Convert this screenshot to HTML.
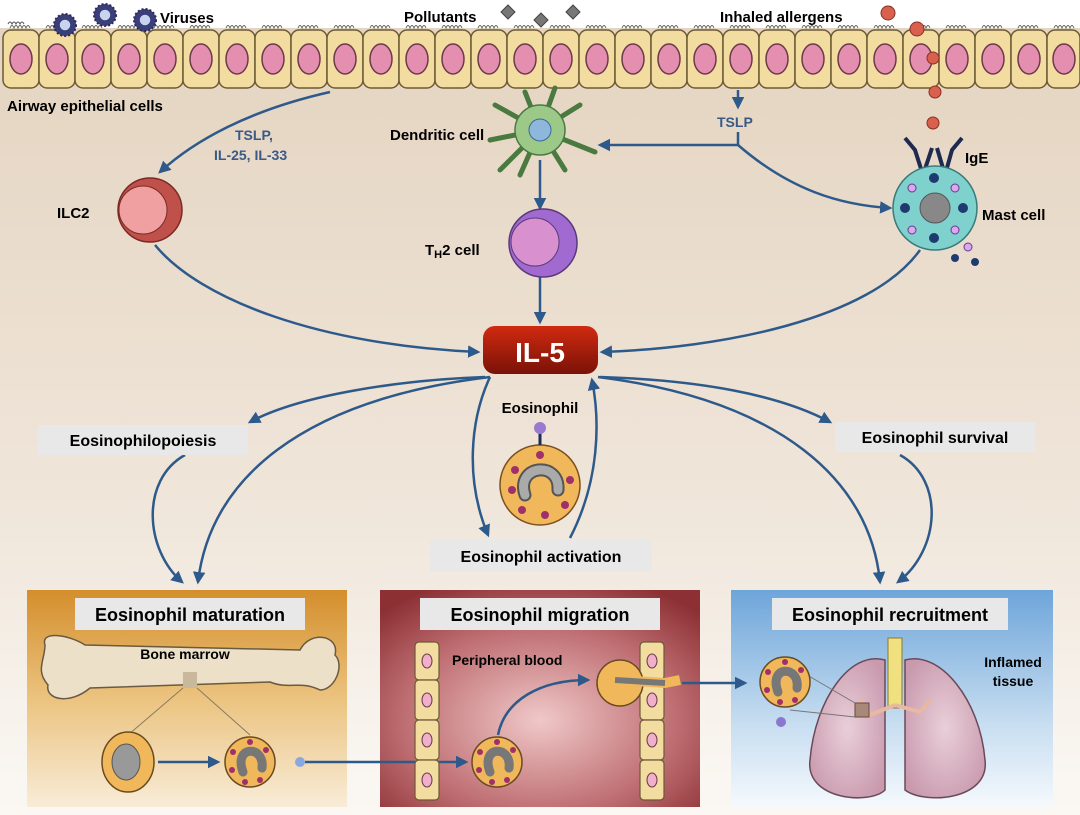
<!DOCTYPE html>
<html><head><meta charset="utf-8"><style>
html,body{margin:0;padding:0;background:#fff}
svg{display:block}
text{font-family:"Liberation Sans",sans-serif;font-weight:bold}
</style></head><body>
<svg width="1080" height="815" viewBox="0 0 1080 815" xmlns="http://www.w3.org/2000/svg">
<defs>
<linearGradient id="bg" x1="0" y1="0" x2="0" y2="1">
<stop offset="0" stop-color="#e4d3bf"/><stop offset="0.6" stop-color="#efe5d9"/><stop offset="1" stop-color="#fbf8f4"/></linearGradient>
<linearGradient id="p1" x1="0" y1="0" x2="0" y2="1">
<stop offset="0" stop-color="#d48e2c"/><stop offset="0.5" stop-color="#ebc37f"/><stop offset="1" stop-color="#f8ecd8"/></linearGradient>
<radialGradient id="p2" cx="0.5" cy="0.6" r="0.7">
<stop offset="0" stop-color="#f0c8c8"/><stop offset="0.6" stop-color="#bf6f73"/><stop offset="1" stop-color="#8c3034"/></radialGradient>
<linearGradient id="p3" x1="0" y1="0" x2="0" y2="1">
<stop offset="0" stop-color="#6ea5da"/><stop offset="0.6" stop-color="#c5dcf0"/><stop offset="1" stop-color="#f5f9fd"/></linearGradient>
<linearGradient id="il5" x1="0" y1="0" x2="0" y2="1">
<stop offset="0" stop-color="#d02a10"/><stop offset="1" stop-color="#7a1208"/></linearGradient>
<marker id="ah" viewBox="0 0 10 10" refX="8" refY="5" markerWidth="5" markerHeight="5" orient="auto-start-reverse">
<path d="M0,0 L10,5 L0,10 z" fill="#2d5a8a"/></marker>
<radialGradient id="lung" cx="0.5" cy="0.5" r="0.6"><stop offset="0" stop-color="#e9cfd8"/><stop offset="1" stop-color="#c99aae"/></radialGradient>
</defs>
<rect width="1080" height="815" fill="url(#bg)"/>
<rect y="0" width="1080" height="28" fill="#fff"/>

<!-- epithelium -->
<g id="epi">
<g stroke="#555" stroke-width="1" fill="none">
<path d="M8,24 q2,-4 4,0 q2,-4 4,0 q2,-4 4,0 q2,-4 4,0" transform="translate(0,0)"/>
</g>
</g>
<g fill="#f2dca0" stroke="#6b5a35" stroke-width="1.5">
<!-- cells -->
<rect x="3" y="30" width="36" height="58" rx="8"/><rect x="39" y="30" width="36" height="58" rx="8"/><rect x="75" y="30" width="36" height="58" rx="8"/><rect x="111" y="30" width="36" height="58" rx="8"/><rect x="147" y="30" width="36" height="58" rx="8"/><rect x="183" y="30" width="36" height="58" rx="8"/><rect x="219" y="30" width="36" height="58" rx="8"/><rect x="255" y="30" width="36" height="58" rx="8"/><rect x="291" y="30" width="36" height="58" rx="8"/><rect x="327" y="30" width="36" height="58" rx="8"/><rect x="363" y="30" width="36" height="58" rx="8"/><rect x="399" y="30" width="36" height="58" rx="8"/><rect x="435" y="30" width="36" height="58" rx="8"/><rect x="471" y="30" width="36" height="58" rx="8"/><rect x="507" y="30" width="36" height="58" rx="8"/><rect x="543" y="30" width="36" height="58" rx="8"/><rect x="579" y="30" width="36" height="58" rx="8"/><rect x="615" y="30" width="36" height="58" rx="8"/><rect x="651" y="30" width="36" height="58" rx="8"/><rect x="687" y="30" width="36" height="58" rx="8"/><rect x="723" y="30" width="36" height="58" rx="8"/><rect x="759" y="30" width="36" height="58" rx="8"/><rect x="795" y="30" width="36" height="58" rx="8"/><rect x="831" y="30" width="36" height="58" rx="8"/><rect x="867" y="30" width="36" height="58" rx="8"/><rect x="903" y="30" width="36" height="58" rx="8"/><rect x="939" y="30" width="36" height="58" rx="8"/><rect x="975" y="30" width="36" height="58" rx="8"/><rect x="1011" y="30" width="36" height="58" rx="8"/><rect x="1047" y="30" width="33" height="58" rx="8"/>
</g>
<g fill="#e58fb0" stroke="#6b3a4a" stroke-width="1.5">
<ellipse cx="21" cy="59" rx="11" ry="15"/><ellipse cx="57" cy="59" rx="11" ry="15"/><ellipse cx="93" cy="59" rx="11" ry="15"/><ellipse cx="129" cy="59" rx="11" ry="15"/><ellipse cx="165" cy="59" rx="11" ry="15"/><ellipse cx="201" cy="59" rx="11" ry="15"/><ellipse cx="237" cy="59" rx="11" ry="15"/><ellipse cx="273" cy="59" rx="11" ry="15"/><ellipse cx="309" cy="59" rx="11" ry="15"/><ellipse cx="345" cy="59" rx="11" ry="15"/><ellipse cx="381" cy="59" rx="11" ry="15"/><ellipse cx="417" cy="59" rx="11" ry="15"/><ellipse cx="453" cy="59" rx="11" ry="15"/><ellipse cx="489" cy="59" rx="11" ry="15"/><ellipse cx="525" cy="59" rx="11" ry="15"/><ellipse cx="561" cy="59" rx="11" ry="15"/><ellipse cx="597" cy="59" rx="11" ry="15"/><ellipse cx="633" cy="59" rx="11" ry="15"/><ellipse cx="669" cy="59" rx="11" ry="15"/><ellipse cx="705" cy="59" rx="11" ry="15"/><ellipse cx="741" cy="59" rx="11" ry="15"/><ellipse cx="777" cy="59" rx="11" ry="15"/><ellipse cx="813" cy="59" rx="11" ry="15"/><ellipse cx="849" cy="59" rx="11" ry="15"/><ellipse cx="885" cy="59" rx="11" ry="15"/><ellipse cx="921" cy="59" rx="11" ry="15"/><ellipse cx="957" cy="59" rx="11" ry="15"/><ellipse cx="993" cy="59" rx="11" ry="15"/><ellipse cx="1029" cy="59" rx="11" ry="15"/><ellipse cx="1064" cy="59" rx="11" ry="15"/>
</g>
<path d="M10,28 q2,-5 4,0 q2,-5 4,0 q2,-5 4,0 q2,-5 4,0 q2,-5 4,0" fill="none" stroke="#666" stroke-width="1" id="cil"/>
<g fill="none" stroke="#666" stroke-width="1">
<use href="#cil" x="36"/><use href="#cil" x="72"/><use href="#cil" x="108"/><use href="#cil" x="144"/><use href="#cil" x="180"/><use href="#cil" x="216"/><use href="#cil" x="252"/><use href="#cil" x="288"/><use href="#cil" x="324"/><use href="#cil" x="360"/><use href="#cil" x="396"/><use href="#cil" x="432"/><use href="#cil" x="468"/><use href="#cil" x="504"/><use href="#cil" x="540"/><use href="#cil" x="576"/><use href="#cil" x="612"/><use href="#cil" x="648"/><use href="#cil" x="684"/><use href="#cil" x="720"/><use href="#cil" x="756"/><use href="#cil" x="792"/><use href="#cil" x="828"/><use href="#cil" x="864"/><use href="#cil" x="900"/><use href="#cil" x="936"/><use href="#cil" x="972"/><use href="#cil" x="1008"/><use href="#cil" x="1044"/>
</g>

<!-- viruses -->
<g stroke="#2a2a5a" stroke-width="2">
<circle cx="65" cy="25" r="11" fill="#3a3f7a" stroke-dasharray="2 2"/><circle cx="105" cy="15" r="11" fill="#3a3f7a" stroke-dasharray="2 2"/><circle cx="145" cy="20" r="11" fill="#3a3f7a" stroke-dasharray="2 2"/>
</g>
<g fill="#c8d4ee" stroke="#3a3f7a" stroke-width="1.5"><circle cx="65" cy="25" r="6"/><circle cx="105" cy="15" r="6"/><circle cx="145" cy="20" r="6"/></g>
<text x="160" y="23" font-size="15">Viruses</text>
<text x="404" y="22" font-size="15">Pollutants</text>
<g fill="#777" stroke="#444"><path d="M508,5 l7,7 -7,7 -7,-7z"/><path d="M541,13 l7,7 -7,7 -7,-7z"/><path d="M573,5 l7,7 -7,7 -7,-7z"/></g>
<text x="720" y="22" font-size="15">Inhaled allergens</text>
<g fill="#d9604e" stroke="#8a3020"><circle cx="888" cy="13" r="7"/><circle cx="917" cy="29" r="7"/><circle cx="933" cy="58" r="6"/><circle cx="935" cy="92" r="6"/><circle cx="933" cy="123" r="6"/></g>
<text x="7" y="111" font-size="15">Airway epithelial cells</text>

<!-- connectors -->
<g stroke="#2d5a8a" stroke-width="2.5" fill="none" marker-end="url(#ah)">
<path d="M330,92 C250,110 195,140 160,172"/>
<path d="M738,90 L738,107"/>
<path d="M738,132 L738,145 L600,145"/>
<path d="M738,145 C790,190 840,205 890,208"/>
<path d="M540,160 L540,208"/>
<path d="M540,275 L540,322"/>
<path d="M155,245 C200,300 320,345 478,352"/>
<path d="M920,250 C870,320 720,348 602,352"/>
<path d="M485,377 C400,380 300,395 250,422"/>
<path d="M490,377 C300,400 210,480 198,582"/>
<path d="M490,377 C470,420 465,480 488,535"/>
<path d="M570,538 C600,480 600,420 592,380"/>
<path d="M600,377 C700,380 780,395 830,422"/>
<path d="M598,377 C780,400 870,480 880,582"/>
<path d="M185,455 C140,480 145,550 182,582"/>
<path d="M900,455 C945,480 940,550 898,582"/>
</g>
<text x="235" y="140" font-size="14" fill="#3a5a85">TSLP,</text>
<text x="214" y="160" font-size="14" fill="#3a5a85">IL-25, IL-33</text>
<text x="717" y="127" font-size="14" fill="#3a5a85">TSLP</text>

<!-- dendritic cell -->
<g stroke="#4a7a40" stroke-width="5" stroke-linecap="round" fill="none">
<path d="M540,130 L495,105"/><path d="M540,130 L490,140"/><path d="M540,130 L500,170"/><path d="M540,130 L520,175"/><path d="M540,130 L565,170"/><path d="M540,130 L595,152"/><path d="M540,130 L580,105"/><path d="M540,130 L555,88"/><path d="M540,130 L525,92"/>
</g>
<circle cx="540" cy="130" r="25" fill="#9cc987" stroke="#4a7a40" stroke-width="1.5"/>
<circle cx="540" cy="130" r="11" fill="#8fb7db" stroke="#3a6a9a"/>
<text x="390" y="140" font-size="15">Dendritic cell</text>

<!-- ILC2 -->
<circle cx="150" cy="210" r="32" fill="#c0504a" stroke="#7a2a26" stroke-width="1.5"/>
<circle cx="143" cy="210" r="24" fill="#f0a0a0" stroke="#7a2a26"/>
<text x="57" y="218" font-size="15">ILC2</text>

<!-- TH2 -->
<circle cx="543" cy="243" r="34" fill="#a06ad0" stroke="#5a3a7a" stroke-width="1.5"/>
<circle cx="535" cy="242" r="24" fill="#d890cf" stroke="#5a3a7a"/>
<text x="425" y="255" font-size="15">T<tspan font-size="11" dy="3">H</tspan><tspan dy="-3">2 cell</tspan></text>

<!-- mast cell -->
<g stroke="#1e2a50" stroke-width="4" fill="none"><path d="M923,175 L915,150 L905,138"/><path d="M923,175 L932,148"/><path d="M945,175 L937,148"/><path d="M945,175 L952,150 L962,138"/></g>
<circle cx="935" cy="208" r="42" fill="#7ed1cc" stroke="#3a7a7a" stroke-width="1.5"/>
<circle cx="935" cy="208" r="15" fill="#888" stroke="#555"/>
<g fill="#1e3a70"><circle cx="934" cy="178" r="5"/><circle cx="905" cy="208" r="5"/><circle cx="963" cy="208" r="5"/><circle cx="934" cy="238" r="5"/><circle cx="955" cy="258" r="4"/><circle cx="975" cy="262" r="4"/></g>
<g fill="#d8a8f0" stroke="#6a3a8a"><circle cx="912" cy="188" r="4"/><circle cx="955" cy="188" r="4"/><circle cx="912" cy="230" r="4"/><circle cx="955" cy="230" r="4"/><circle cx="968" cy="247" r="4"/></g>
<text x="965" y="163" font-size="15">IgE</text>
<text x="982" y="220" font-size="15">Mast cell</text>

<!-- IL-5 -->
<rect x="483" y="326" width="115" height="48" rx="12" fill="url(#il5)"/>
<text x="540" y="362" font-size="28" fill="#fff" text-anchor="middle">IL-5</text>

<!-- labels -->
<rect x="38" y="425" width="210" height="30" fill="#e8e8e8"/>
<text x="143" y="446" font-size="16" text-anchor="middle">Eosinophilopoiesis</text>
<rect x="835" y="422" width="200" height="30" fill="#e8e8e8"/>
<text x="935" y="443" font-size="16" text-anchor="middle">Eosinophil survival</text>
<rect x="430" y="540" width="222" height="32" fill="#e8e8e8"/>
<text x="541" y="562" font-size="16" text-anchor="middle">Eosinophil activation</text>
<text x="540" y="413" font-size="15" text-anchor="middle">Eosinophil</text>

<!-- eosinophil center -->
<circle cx="540" cy="485" r="40" fill="#f0b85a" stroke="#7a5020" stroke-width="1.5"/>
<g stroke="#1e2a50" stroke-width="3"><path d="M540,445 L540,430"/></g>
<circle cx="540" cy="428" r="6" fill="#9a7ad0"/>
<path d="M525,495 C515,465 560,460 558,490" fill="none" stroke="#555" stroke-width="13" stroke-linecap="round"/>
<path d="M525,495 C515,465 560,460 558,490" fill="none" stroke="#aaa" stroke-width="9" stroke-linecap="round"/>
<g fill="#a0306a"><circle cx="515" cy="470" r="4"/><circle cx="512" cy="490" r="4"/><circle cx="522" cy="510" r="4"/><circle cx="545" cy="515" r="4"/><circle cx="565" cy="505" r="4"/><circle cx="570" cy="480" r="4"/><circle cx="540" cy="455" r="4"/></g>

<!-- panels -->
<rect x="27" y="590" width="320" height="217" fill="url(#p1)"/>
<rect x="380" y="590" width="320" height="217" fill="url(#p2)"/>
<rect x="731" y="590" width="322" height="217" fill="url(#p3)"/>
<rect x="75" y="598" width="230" height="32" fill="#e8e8e8"/>
<text x="190" y="621" font-size="18" text-anchor="middle">Eosinophil maturation</text>
<rect x="420" y="598" width="240" height="32" fill="#e8e8e8"/>
<text x="540" y="621" font-size="18" text-anchor="middle">Eosinophil migration</text>
<rect x="772" y="598" width="236" height="32" fill="#e8e8e8"/>
<text x="890" y="621" font-size="18" text-anchor="middle">Eosinophil recruitment</text>

<!-- bone -->
<path d="M45,645 C40,630 70,635 85,645 L300,650 C310,630 340,635 335,655 C345,665 335,690 320,690 C300,680 290,690 270,682 L90,688 C70,705 45,700 48,685 C35,670 45,660 45,645z" fill="#ece0c8" stroke="#6a5a40" stroke-width="1.5"/>
<rect x="183" y="672" width="14" height="16" fill="#c8b89c"/>
<text x="185" y="659" font-size="14" text-anchor="middle">Bone marrow</text>
<g stroke="#8a7a60"><path d="M183,688 L128,735"/><path d="M197,688 L250,735"/></g>
<ellipse cx="128" cy="762" rx="26" ry="30" fill="#f0b85a" stroke="#6a4a20" stroke-width="1.5"/>
<ellipse cx="126" cy="762" rx="14" ry="18" fill="#999" stroke="#555"/>
<circle cx="250" cy="762" r="25" fill="#f0b85a" stroke="#6a4a20" stroke-width="1.5"/>
<path d="M243,772 C233,745 265,745 262,768" fill="none" stroke="#777" stroke-width="9" stroke-linecap="round"/>
<g fill="#a0306a"><circle cx="233" cy="752" r="3"/><circle cx="232" cy="770" r="3"/><circle cx="245" cy="782" r="3"/><circle cx="260" cy="780" r="3"/><circle cx="250" cy="742" r="3"/><circle cx="266" cy="750" r="3"/></g>
<circle cx="300" cy="762" r="5" fill="#8aa8e0"/>
<g stroke="#2d5a8a" stroke-width="2.5" fill="none" marker-end="url(#ah)">
<path d="M158,762 L218,762"/>
<path d="M305,762 L466,762"/>
<path d="M498,735 C505,700 540,680 588,680"/>
<path d="M682,683 L745,683"/>
</g>

<!-- vessel walls -->
<g fill="#f2dca0" stroke="#6b5a35" stroke-width="1.2">
<rect x="415" y="642" width="24" height="38" rx="4"/><rect x="415" y="680" width="24" height="40" rx="4"/><rect x="415" y="720" width="24" height="40" rx="4"/><rect x="415" y="760" width="24" height="40" rx="4"/>
<rect x="640" y="642" width="24" height="38" rx="4"/><rect x="640" y="680" width="24" height="40" rx="4"/><rect x="640" y="720" width="24" height="40" rx="4"/><rect x="640" y="760" width="24" height="40" rx="4"/>
</g>
<g fill="#f0b0cc" stroke="#6b3a4a"><ellipse cx="427" cy="661" rx="5" ry="7"/><ellipse cx="427" cy="700" rx="5" ry="7"/><ellipse cx="427" cy="740" rx="5" ry="7"/><ellipse cx="427" cy="780" rx="5" ry="7"/><ellipse cx="652" cy="661" rx="5" ry="7"/><ellipse cx="652" cy="700" rx="5" ry="7"/><ellipse cx="652" cy="740" rx="5" ry="7"/><ellipse cx="652" cy="780" rx="5" ry="7"/></g>
<text x="452" y="665" font-size="14">Peripheral blood</text>
<circle cx="497" cy="762" r="25" fill="#f0b85a" stroke="#6a4a20" stroke-width="1.5"/>
<path d="M490,772 C480,745 512,745 509,768" fill="none" stroke="#777" stroke-width="9" stroke-linecap="round"/>
<g fill="#a0306a"><circle cx="480" cy="752" r="3"/><circle cx="479" cy="770" r="3"/><circle cx="492" cy="782" r="3"/><circle cx="507" cy="780" r="3"/><circle cx="497" cy="742" r="3"/><circle cx="513" cy="750" r="3"/></g>
<circle cx="620" cy="683" r="23" fill="#f0b85a" stroke="#6a4a20" stroke-width="1.5"/>
<path d="M620,680 L665,683 L680,680" fill="none" stroke="#f0b85a" stroke-width="10"/>
<path d="M615,680 L665,683" stroke="#777" stroke-width="6"/>

<!-- lungs -->
<path d="M885,660 C850,650 815,700 810,760 C805,800 870,805 885,790z" fill="url(#lung)" stroke="#6a4a5a" stroke-width="1.5"/>
<path d="M905,660 C940,650 980,700 985,760 C990,800 925,805 905,790z" fill="url(#lung)" stroke="#6a4a5a" stroke-width="1.5"/>
<rect x="888" y="638" width="14" height="70" fill="#f0e080" stroke="#8a7a30"/>
<g stroke="#e8b8a0" stroke-width="4" fill="none"><path d="M895,705 L870,715 L860,700"/><path d="M895,705 L920,712 L930,700"/></g>
<rect x="855" y="703" width="14" height="14" fill="#a88878" stroke="#6a4a40"/>
<g stroke="#777"><path d="M790,665 L855,703"/><path d="M790,710 L855,717"/></g>
<circle cx="785" cy="682" r="25" fill="#f0b85a" stroke="#6a4a20" stroke-width="1.5"/>
<path d="M778,692 C768,665 800,665 797,688" fill="none" stroke="#777" stroke-width="9" stroke-linecap="round"/>
<g fill="#a0306a"><circle cx="768" cy="672" r="3"/><circle cx="767" cy="690" r="3"/><circle cx="780" cy="702" r="3"/><circle cx="795" cy="700" r="3"/><circle cx="785" cy="662" r="3"/><circle cx="801" cy="670" r="3"/></g>
<circle cx="781" cy="722" r="5" fill="#8a78d0"/>
<text x="1013" y="667" font-size="14" text-anchor="middle">Inflamed</text>
<text x="1013" y="686" font-size="14" text-anchor="middle">tissue</text>
</svg>
</body></html>
